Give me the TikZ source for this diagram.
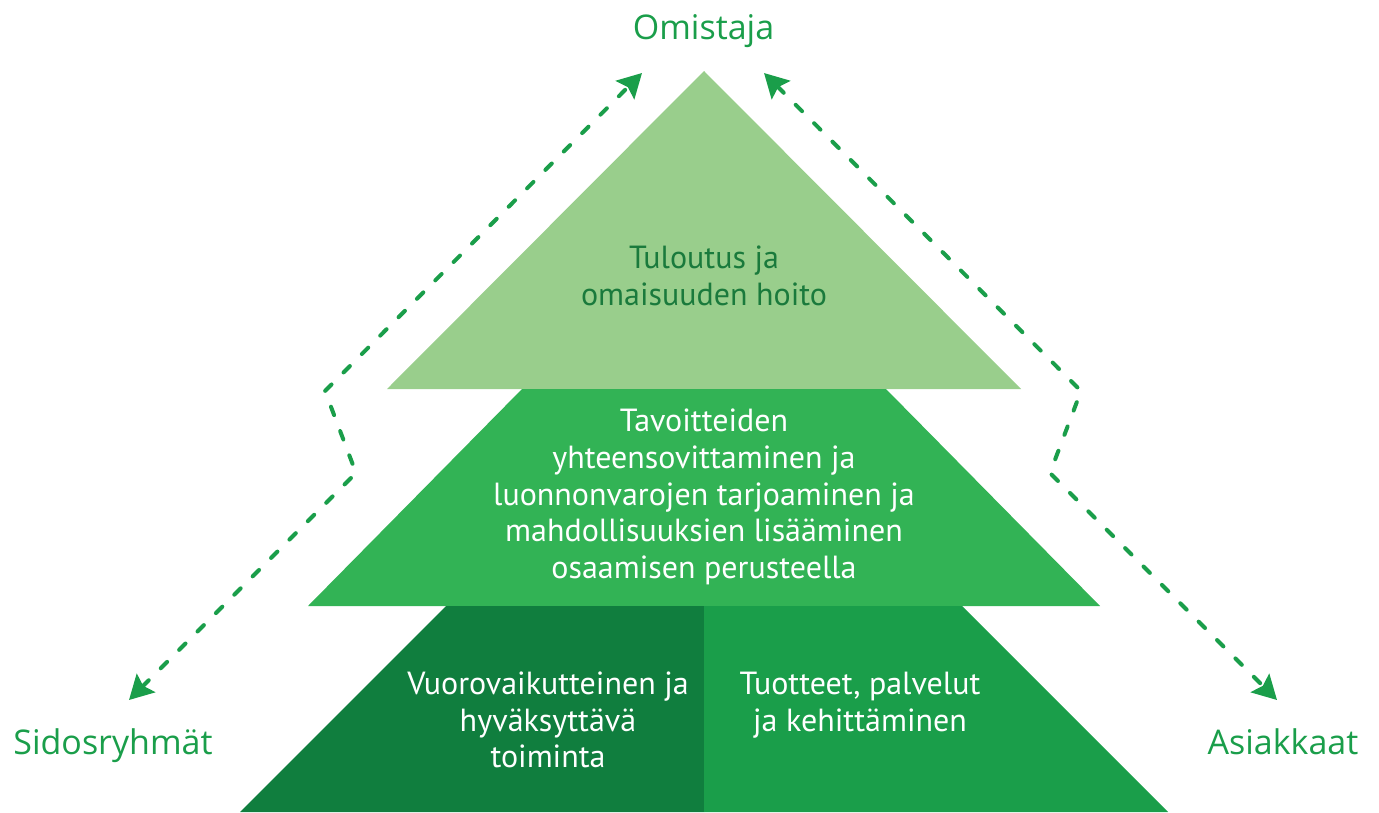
\documentclass[tikz,border=0pt]{standalone}
\usepackage{fontspec}
\setmainfont{PT Sans}
\newfontfamily\labelfont{Open Sans}
\usetikzlibrary{arrows.meta}
\definecolor{topgreen}{HTML}{99CE8C}
\definecolor{midgreen}{HTML}{32B355}
\definecolor{darkgreen}{HTML}{107E3E}
\definecolor{basegreen}{HTML}{1A9E4A}
\definecolor{toptext}{HTML}{1A7A3C}
\tikzset{
  outerlabel/.style={font=\labelfont\fontsize{34}{40}\selectfont, text=basegreen, inner sep=0pt, anchor=base},
  innertext/.style={font=\fontsize{32}{36.7}\selectfont, align=center, inner sep=0pt},
  conn/.style={draw=basegreen, line width=4pt, line cap=round, line join=round,
    dash pattern=on 9pt off 17pt, {Stealth[length=24pt,width=26pt,inset=4pt]}-{Stealth[length=24pt,width=26pt,inset=4pt]}}
}
\begin{document}
\begin{tikzpicture}[x=1pt,y=-1pt]
\useasboundingbox (0,0) rectangle (1379,812);
% layers
\fill[topgreen] (704,71) -- (387,389) -- (1021,389) -- cycle;
\fill[midgreen] (522,389) -- (886,389) -- (1100,606) -- (308,606) -- cycle;
\fill[darkgreen] (446,606) -- (704,606) -- (704,812) -- (240,812) -- cycle;
\fill[basegreen] (704,606) -- (962,606) -- (1168,812) -- (704,812) -- cycle;
% texts
\node[innertext, text=toptext] (top) at (704,276) {Tuloutus ja\\omaisuuden hoito};
\node[innertext, text=white] (mid) at (704,497) {Tavoitteiden\\yhteensovittaminen ja\\luonnonvarojen tarjoaminen ja\\mahdollisuuksien lisääminen\\osaamisen perusteella};
\node[innertext, text=white] (botl) at (548,720) {Vuorovaikutteinen ja\\hyväksyttävä\\toiminta};
\node[innertext, text=white] (botr) at (860,705) {Tuotteet, palvelut\\ja kehittäminen};
% outer labels
\node[outerlabel] (omistaja) at (703.5,39) {Omistaja};
\node[outerlabel] (sidos) at (113,754) {Sidosryhmät};
\node[outerlabel] (asiakkaat) at (1283,754) {Asiakkaat};
% connector points
\coordinate (omL) at (642,73);
\coordinate (omR) at (764,73);
\coordinate (l1) at (325,391);
\coordinate (l2) at (356,473);
\coordinate (r1) at (1081,391);
\coordinate (r2) at (1050,473);
\coordinate (sidosTip) at (129,700);
\coordinate (asTip) at (1277,700);
\draw[conn] (sidosTip) -- (l2) -- (l1) -- (omL);
\draw[conn] (omR) -- (r1) -- (r2) -- (asTip);
\end{tikzpicture}
\end{document}
